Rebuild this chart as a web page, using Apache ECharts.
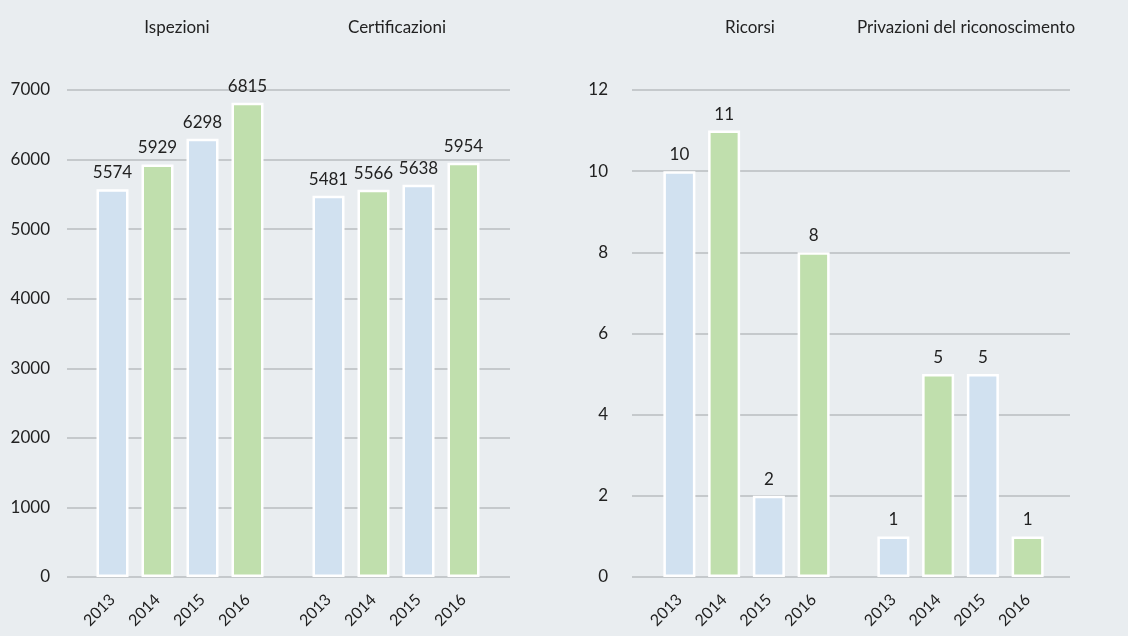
<!DOCTYPE html>
<html>
<head>
<meta charset="utf-8">
<script src="https://cdn.jsdelivr.net/npm/echarts@6/dist/echarts.min.js"></script>
<style>
  html, body { margin: 0; padding: 0; background: #e9edf0; }
  #chart { width: 1128px; height: 636px; }
</style>
</head>
<body>
<div id="chart"></div>
<script>
const years = ['2013', '2014', '2015', '2016'];
const ispezioni = [5574, 5929, 6298, 6815];
const certificazioni = [5481, 5566, 5638, 5954];
const ricorsi = [10, 11, 2, 8];
const privazioni = [1, 5, 5, 1];
const groupTitles = ['Ispezioni', 'Certificazioni', 'Ricorsi', 'Privazioni del riconoscimento'];

const FONT = 'Lato, "Open Sans", sans-serif';
const TEXT = '#222';
const BLUE = '#d1e1f0';
const GREEN = '#c0dfad';

const chart = echarts.init(document.getElementById('chart'));

// frame grids carry the y labels + gridlines, bar grids carry the bars
const frameAxis = (gridIndex, max, interval, margin) => ({
  type: 'value', gridIndex, min: 0, max, interval,
  axisLine: { show: false }, axisTick: { show: false },
  axisLabel: { color: TEXT, fontSize: 17, fontFamily: FONT, margin, formatter: (v) => String(v) },
  splitLine: { lineStyle: { color: '#b9bdc1', width: 1.5 } }
});
const hiddenY = (gridIndex, max) => ({
  type: 'value', gridIndex, min: 0, max, show: false, splitLine: { show: false }
});
const yearAxis = (gridIndex) => ({
  type: 'category', gridIndex, data: years,
  axisLine: { show: false }, axisTick: { show: false },
  axisLabel: { color: TEXT, fontSize: 16, fontFamily: FONT, rotate: 45, margin: 20, interval: 0 }
});
const frameX = (gridIndex) => ({ type: 'category', gridIndex, data: [''], show: false });

const barSeries = (name, idx, data) => ({
  name, type: 'bar', xAxisIndex: idx, yAxisIndex: idx, data,
  barWidth: 32,
  itemStyle: {
    color: (p) => (p.dataIndex % 2 === 0 ? BLUE : GREEN),
    borderColor: '#ffffff', borderWidth: 2.5
  },
  label: {
    show: true, position: 'top', distance: 8,
    color: TEXT, fontSize: 17, fontFamily: FONT
  }
});

const titleAt = (text, x) => ({
  text, left: x, top: 14, textAlign: 'center',
  textStyle: { color: TEXT, fontSize: 17, fontWeight: 'normal', fontFamily: FONT }
});

const option = {
  backgroundColor: '#e9edf0',
  animation: false,
  title: [
    titleAt(groupTitles[0], 172),
    titleAt(groupTitles[1], 392),
    titleAt(groupTitles[2], 745),
    titleAt(groupTitles[3], 961)
  ],
  grid: [
    { left: 67, right: 618, top: 90, bottom: 59 },
    { left: 90, width: 180, top: 90, bottom: 59 },
    { left: 306, width: 180, top: 90, bottom: 59 },
    { left: 632, right: 58, top: 90, bottom: 59 },
    { left: 657, width: 179, top: 90, bottom: 59 },
    { left: 871, width: 179, top: 90, bottom: 59 }
  ],
  xAxis: [frameX(0), yearAxis(1), yearAxis(2), frameX(3), yearAxis(4), yearAxis(5)],
  yAxis: [
    frameAxis(0, 7000, 1000, 17), hiddenY(1, 7000), hiddenY(2, 7000),
    frameAxis(3, 12, 2, 24), hiddenY(4, 12), hiddenY(5, 12)
  ],
  series: [
    barSeries('Ispezioni', 1, ispezioni),
    barSeries('Certificazioni', 2, certificazioni),
    barSeries('Ricorsi', 4, ricorsi),
    barSeries('Privazioni del riconoscimento', 5, privazioni)
  ]
};

chart.setOption(option);
</script>
</body>
</html>
